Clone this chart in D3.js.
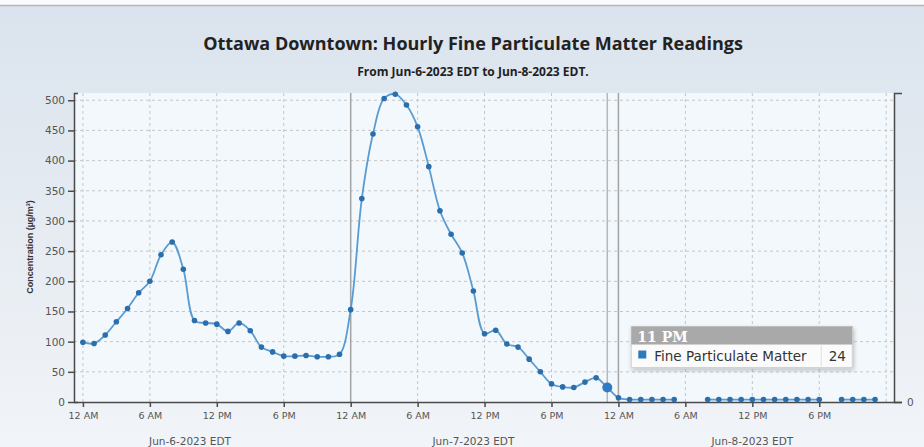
<!DOCTYPE html>
<html>
<head>
<meta charset="utf-8">
<script src="https://cdn.jsdelivr.net/npm/d3@7"></script>
<style>
  html, body { margin: 0; padding: 0; background: #ffffff; }
  svg { display: block; }
</style>
</head>
<body>
<div id="chart"></div>
<script>
// Hourly PM2.5 readings, one array per day (null = no reading)
const jun6 = [99, 97, 111, 133, 155, 181, 200, 244, 265, 220, 135, 131, 129, 117, 131, 118, 91, 83, 76, 76, 77, 75, 75, 79]
const jun7 = [153, 337, 444, 503, 510, 492, 456, 390, 317, 278, 247, 184, 113, 119, 96, 91, 71, 50, 30, 25, 24, 33, 40, 24]
const jun8 = [7, 4, 4, 4, 4, 4, null, null, 4, 4, 4, 4, 4, 4, 4, 4, 4, 4, 4, null, 4, 4, 4, 4]

const dayLabels = ['Jun-6-2023 EDT', 'Jun-7-2023 EDT', 'Jun-8-2023 EDT']
const hourLabels = ['12 AM', '6 AM', '12 PM', '6 PM']
const yTicks = [0, 50, 100, 150, 200, 250, 300, 350, 400, 450, 500]
const seriesName = 'Fine Particulate Matter'
const hoverHour = 47

const title = 'Ottawa Downtown: Hourly Fine Particulate Matter Readings'
const subtitle = 'From Jun-6-2023 EDT to Jun-8-2023 EDT.'
const yTitle = 'Concentration (µg/m³)'

// Setting up svg, scales
const W = 924, H = 447
const plot = { left: 74, right: 894, top: 93, bottom: 402 }

const svg = d3.select('#chart').append('svg')
  .attr('width', W)
  .attr('height', H)

const data = [].concat(jun6, jun7, jun8).map((v, i) => ({ h: i, v: v }))

const x = d3.scaleLinear().domain([-0.8, 72.7]).range([plot.left, plot.right])
const y = d3.scaleLinear().domain([0, 512]).range([plot.bottom, plot.top])

// Background
const defs = svg.append('defs')
const grad = defs.append('linearGradient').attr('id', 'bg').attr('x1', 0).attr('y1', 0).attr('x2', 0).attr('y2', 1)
grad.append('stop').attr('offset', '0%').attr('stop-color', '#dae3ed')
grad.append('stop').attr('offset', '60%').attr('stop-color', '#e8edf3')
grad.append('stop').attr('offset', '100%').attr('stop-color', '#f1f4f8')

const shadow = defs.append('filter').attr('id', 'shadow').attr('x', '-10%').attr('y', '-20%').attr('width', '130%').attr('height', '160%')
shadow.append('feDropShadow').attr('dx', 1).attr('dy', 2).attr('stdDeviation', 2).attr('flood-opacity', 0.25)

svg.append('rect').attr('width', W).attr('height', H).attr('fill', 'url(#bg)')
svg.append('rect').attr('width', W).attr('height', 5).attr('fill', '#fafbfc')
svg.append('line').attr('x1', 0).attr('x2', W).attr('y1', 5.5).attr('y2', 5.5)
  .attr('stroke', '#b4b4b4').attr('stroke-width', 1.5)

svg.append('rect')
  .attr('x', plot.left).attr('y', plot.top)
  .attr('width', plot.right - plot.left).attr('height', plot.bottom - plot.top)
  .attr('fill', '#f3f8fc')

// Titles
svg.append('text')
  .attr('x', 473).attr('y', 50)
  .attr('text-anchor', 'middle')
  .style('font-family', 'Open Sans')
  .style('font-weight', 700)
  .style('font-size', '18px')
  .attr('fill', '#222')
  .text(title)

svg.append('text')
  .attr('x', 473).attr('y', 76)
  .attr('text-anchor', 'middle')
  .style('font-family', 'Open Sans')
  .style('font-weight', 700)
  .style('font-size', '12px')
  .attr('fill', '#222')
  .text(subtitle)

svg.append('text')
  .attr('transform', 'translate(33, 247) rotate(-90)')
  .attr('text-anchor', 'middle')
  .style('font-family', 'Liberation Sans')
  .style('font-weight', 700)
  .style('font-size', '9px')
  .attr('fill', '#333')
  .text(yTitle)

// Grid
const gridHours = d3.range(0, 73, 6)
svg.append('g').selectAll('line')
  .data(yTicks.filter(d => d > 0))
  .join('line')
  .attr('x1', plot.left).attr('x2', plot.right)
  .attr('y1', d => y(d)).attr('y2', d => y(d))
  .attr('stroke', '#c6c6c6').attr('stroke-dasharray', '3,3')

svg.append('g').selectAll('line')
  .data(gridHours)
  .join('line')
  .attr('x1', d => x(d)).attr('x2', d => x(d))
  .attr('y1', plot.top).attr('y2', plot.bottom)
  .attr('stroke', '#c6c6c6').attr('stroke-dasharray', '3,3')

// Day separators and hover line
svg.append('g').selectAll('line')
  .data([24, 48, hoverHour])
  .join('line')
  .attr('x1', d => x(d)).attr('x2', d => x(d))
  .attr('y1', plot.top).attr('y2', plot.bottom)
  .attr('stroke', d => d === hoverHour ? '#b8b8b8' : '#a4a4a4')
  .attr('stroke-width', 1.5)

// Axes
const axisFont = g => g.selectAll('text')
  .style('font-family', 'DejaVu Sans')
  .attr('fill', '#555')

const yAxis = svg.append('g')
  .attr('transform', `translate(${plot.left},0)`)
  .call(d3.axisLeft(y).tickValues(yTicks).tickSize(6).tickSizeOuter(-4).tickPadding(3))
yAxis.call(axisFont).selectAll('text').style('font-size', '10.5px')

const yAxisRight = svg.append('g')
  .attr('transform', `translate(${plot.right},0)`)
  .call(d3.axisRight(y).tickValues([0]).tickSize(8).tickSizeOuter(8).tickPadding(5))
yAxisRight.call(axisFont).selectAll('text').style('font-size', '10.5px')

const xAxis = svg.append('g')
  .attr('transform', `translate(0,${plot.bottom})`)
  .call(d3.axisBottom(x)
    .tickValues(d3.range(0, 72, 6))
    .tickFormat(d => hourLabels[(d / 6) % 4])
    .tickSize(5).tickSizeOuter(0).tickPadding(5))
xAxis.call(axisFont).selectAll('text').style('font-size', '9.5px')

svg.selectAll('.domain, .tick line').attr('stroke', '#4a4a4a').attr('stroke-width', 1.5)

// Day labels under the axis
const dayLabelHour = [9.6, 35, 60]
svg.append('g').selectAll('text')
  .data(dayLabels)
  .join('text')
  .attr('x', (d, i) => x(dayLabelHour[i]))
  .attr('y', 445)
  .attr('text-anchor', 'middle')
  .style('font-family', 'DejaVu Sans')
  .style('font-size', '10.5px')
  .attr('fill', '#555')
  .text(d => d)

// Series line + points
const line = d3.line()
  .defined(d => d.v !== null)
  .x(d => x(d.h))
  .y(d => y(d.v))
  .curve(d3.curveCatmullRom.alpha(0.5))

svg.append('path')
  .datum(data)
  .attr('fill', 'none')
  .attr('stroke', '#5a9bd2')
  .attr('stroke-width', 1.8)
  .attr('d', line)

svg.append('g').selectAll('circle')
  .data(data.filter(d => d.v !== null))
  .join('circle')
  .attr('cx', d => x(d.h))
  .attr('cy', d => y(d.v))
  .attr('r', d => d.h === hoverHour ? 5 : 2.8)
  .attr('fill', d => d.h === hoverHour ? '#2f7cc4' : '#2b6eac')

// Tooltip
const hover = data[hoverHour]
const hx = x(hover.h), hy = y(hover.v)
const hourName = d => (d % 12 === 0 ? 12 : d % 12) + ' ' + (d % 24 < 12 ? 'AM' : 'PM')
const tip = svg.append('g').attr('transform', `translate(${hx + 24},${hy - 61})`)

tip.append('rect').attr('width', 221).attr('height', 41)
  .attr('fill', '#fbfbfb').attr('stroke', '#d2d2d2').attr('filter', 'url(#shadow)')
tip.append('rect').attr('width', 221).attr('height', 18).attr('fill', '#a9a9a9')
tip.append('text').attr('x', 6).attr('y', 15)
  .style('font-family', 'DejaVu Serif').style('font-weight', 700).style('font-size', '14px')
  .attr('fill', '#fff').text(hourName(hover.h))
tip.append('rect').attr('x', 7).attr('y', 24).attr('width', 8).attr('height', 8).attr('fill', '#2e78c0')
tip.append('text').attr('x', 23).attr('y', 34)
  .style('font-family', 'DejaVu Sans').style('font-size', '13.5px')
  .attr('fill', '#333').text(seriesName)
tip.append('line').attr('x1', 190).attr('x2', 190).attr('y1', 18).attr('y2', 41).attr('stroke', '#e2e2e2')
tip.append('text').attr('x', 206).attr('y', 34).attr('text-anchor', 'middle')
  .style('font-family', 'DejaVu Sans').style('font-size', '13.5px')
  .attr('fill', '#333').text(hover.v)
</script>
</body>
</html>
